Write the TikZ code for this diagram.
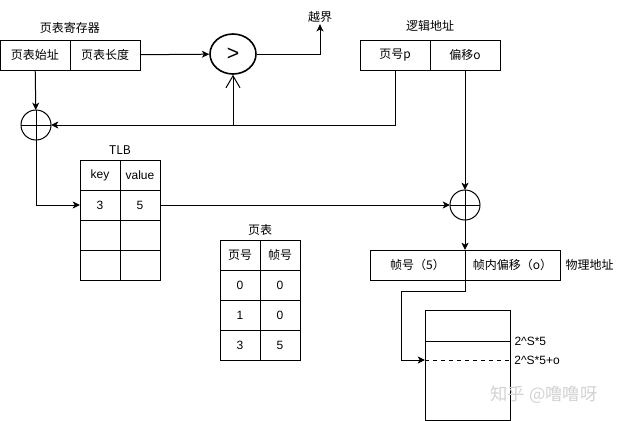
\documentclass[tikz,border=0pt]{standalone}
\usepackage{fontspec}
\setmainfont{Liberation Sans}
\newfontfamily\cjk{Noto Sans CJK SC}
\usetikzlibrary{positioning, arrows.meta, calc, shapes.geometric}

\begin{document}
\begin{tikzpicture}[
    x=0.75pt, y=-0.75pt,
    every node/.style={font=\fontsize{9}{11}\selectfont},
    cell/.style={draw, line width=0.75pt, minimum width=52.5pt, minimum height=22.5pt, inner sep=0pt, outer sep=0pt},
    tcell/.style={cell, minimum width=30pt},
    pcell/.style={cell, minimum width=71.25pt},
    lbl/.style={font=\fontsize{9}{11}\selectfont\cjk, inner sep=1pt},
    plus/.style={draw, circle, line width=0.75pt, minimum size=22.5pt, inner sep=0pt, outer sep=0pt,
        path picture={\draw[line width=0.75pt] (path picture bounding box.north) -- (path picture bounding box.south)
            (path picture bounding box.west) -- (path picture bounding box.east);}},
    arr/.style={-{Stealth[length=5.5pt, width=5.25pt, inset=1.5pt]}, line width=0.75pt},
    oarr/.style={-{Straight Barb[length=9pt, width=10.5pt]}, line width=0.75pt}
]
\useasboundingbox (0,0) rectangle (618,421);

% page table register
\node[cell] (base) at (35,55) {\cjk 页表始址};
\node[cell, right=0pt of base] (len) {\cjk 页表长度};
\node[lbl, above=4pt of base.north east] {页表寄存器};

% compare
\node[draw, ellipse, line width=1.2pt, minimum width=34.5pt, minimum height=30pt, inner sep=0pt] (cmp) at (233,54) {\fontsize{16}{18}\selectfont >};
\node[lbl] (over) at (320,17) {越界};

% logical address
\node[cell] (pno) at (395,55) {\cjk 页号p};
\node[cell, right=0pt of pno] (off) {\cjk 偏移o};
\node[lbl, above=5.5pt of pno.north east] {逻辑地址};

% adders
\node[plus] (add1) at (36,125) {};
\node[plus] (add2) at (465,205) {};

% TLB
\node[tcell] (k0) at (100,175) {key};
\node[tcell, right=0pt of k0] (v0) {value};
\node[tcell, below=0pt of k0] (k1) {3};
\node[tcell, right=0pt of k1] (v1) {5};
\node[tcell, below=0pt of k1] (k2) {};
\node[tcell, right=0pt of k2] (v2) {};
\node[tcell, below=0pt of k2] (k3) {};
\node[tcell, right=0pt of k3] (v3) {};
\node[lbl, above=3pt of k0.north east] {TLB};

% page table
\node[tcell] (p0) at (240,255) {\cjk 页号};
\node[tcell, right=0pt of p0] (f0) {\cjk 帧号};
\node[tcell, below=0pt of p0] (p1) {0};
\node[tcell, right=0pt of p1] (f1) {0};
\node[tcell, below=0pt of p1] (p2) {1};
\node[tcell, right=0pt of p2] (f2) {0};
\node[tcell, below=0pt of p2] (p3) {3};
\node[tcell, right=0pt of p3] (f3) {5};
\node[lbl, above=2pt of p0.north east] {页表};

% physical address
\node[pcell] (fr) at (417.5,265) {\cjk 帧号（5）};
\node[pcell, right=0pt of fr] (fo) {\cjk 帧内偏移（o）};
\node[lbl, right=3pt of fo] {物理地址};

% memory
\node[draw, line width=0.75pt, minimum width=63.75pt, minimum height=82.5pt, inner sep=0pt, outer sep=0pt] (mem) at (467.5,365) {};
\coordinate (m5) at ($(mem.north west)+(0,31)$);
\coordinate (m5o) at ($(mem.north west)+(0,50)$);
\draw[line width=0.75pt] (m5) -- (m5 -| mem.east) node[right, inner sep=3pt] {2\textasciicircum S*5};
\draw[dashed, line width=0.6pt] (m5o) -- (m5o -| mem.east) node[right, inner sep=3pt] {2\textasciicircum S*5+o};

\node[text=gray!35, font=\fontsize{13}{15}\selectfont\cjk] (wm) at (544,395) {知乎 @噜噜呀};

% connectors
\draw[arr] (len) -- (cmp);
\draw[arr] (cmp.east) -| (over.south);
\draw[arr] (base) -- (add1);
\draw[arr] (pno.south) |- (add1.east);
\coordinate (jn) at (cmp.south |- add1.east);
\draw[oarr] (jn) -- (cmp.south);
\draw[arr] (add1.south) |- (k1.west);
\draw[arr] (v1.east) -- (add2.west);
\draw[arr] (off.south) -- (add2.north);
\draw[arr] (add2.south) -- (fr.north east);
\draw[arr] (fr.south east) -- ++(0,11) -| ([xshift=-18pt]m5o) -- (m5o);

\end{tikzpicture}
\end{document}
